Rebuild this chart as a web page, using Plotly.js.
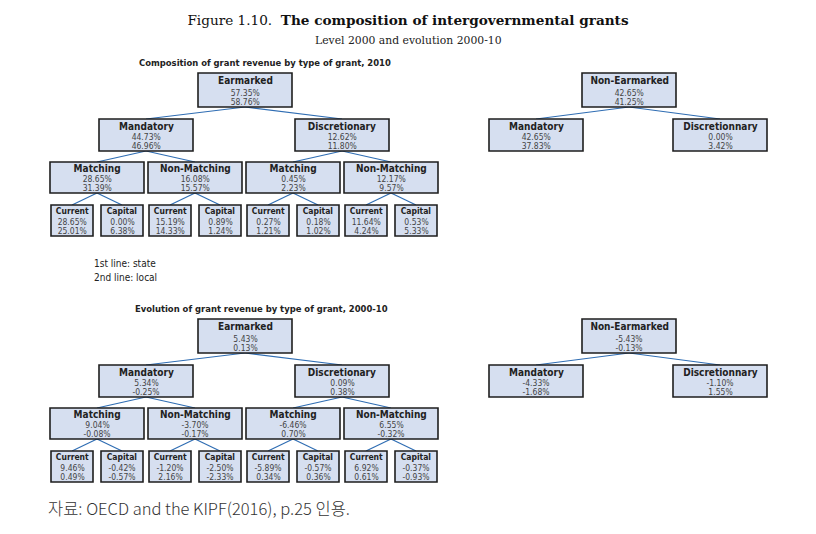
<!DOCTYPE html>
<html><head><meta charset="utf-8">
<script src="https://cdn.plot.ly/plotly-3.0.1.min.js"></script>
<style>html,body{margin:0;padding:0;background:#fff}#chart{width:816px;height:534px}
#chart text[style*="DejaVu Sans"]{font-stretch:condensed !important}</style>
</head><body><div id="chart"></div>
<script>
// ---------- DATA ----------
const groupLabels = ["Earmarked", "Non-Earmarked"];
const earmarkedTypeLabels = ["Mandatory", "Discretionary"];
const nonEarmarkedTypeLabels = ["Mandatory", "Discretionnary"];
const matchingLabels = ["Matching", "Non-Matching"];
const leafLabels = ["Current", "Capital"];
const panelTitles = ["Composition of grant revenue by type of grant, 2010",
                     "Evolution of grant revenue by type of grant, 2000-10"];
const legendLines = ["1st line: state", "2nd line: local"];
const mainTitle = "Figure 1.10.&nbsp; <b>The composition of intergovernmental grants</b>";
const subTitle = "Level 2000 and evolution 2000-10";
const sourceNote = "자료: OECD and the KIPF(2016), p.25 인용.";

// Composition 2010 (state / local)
const compGroupState = [57.35, 42.65];
const compGroupLocal = [58.76, 41.25];
const compEarTypeState = [44.73, 12.62];
const compEarTypeLocal = [46.96, 11.80];
const compNonEarTypeState = [42.65, 0.00];
const compNonEarTypeLocal = [37.83, 3.42];
const compMatchState = [28.65, 16.08, 0.45, 12.17];
const compMatchLocal = [31.39, 15.57, 2.23, 9.57];
const compLeafState = [28.65, 0.00, 15.19, 0.89, 0.27, 0.18, 11.64, 0.53];
const compLeafLocal = [25.01, 6.38, 14.33, 1.24, 1.21, 1.02, 4.24, 5.33];

// Evolution 2000-10 (state / local)
const evoGroupState = [5.43, -5.43];
const evoGroupLocal = [0.13, -0.13];
const evoEarTypeState = [5.34, 0.09];
const evoEarTypeLocal = [-0.25, 0.38];
const evoNonEarTypeState = [-4.33, -1.10];
const evoNonEarTypeLocal = [-1.68, 1.55];
const evoMatchState = [9.04, -3.70, -6.46, 6.55];
const evoMatchLocal = [-0.08, -0.17, 0.70, -0.32];
const evoLeafState = [9.46, -0.42, -1.20, -2.50, -5.89, -0.57, 6.92, -0.37];
const evoLeafLocal = [0.49, -0.57, 2.16, -2.33, 0.34, 0.36, 0.61, -0.93];

// ---------- DRAWING ----------
const NARROW = "'DejaVu Sans', sans-serif";
const FILL = "#d6dff0", EDGE = "#1e1e1e", LINK = "#2f6db3";
const shapes = [], annotations = [];
const fmt = v => v.toFixed(2) + "%";

function box(x0, x1, y0, y1, label, s, l, kind) {
  shapes.push({type: "rect", xref: "x", yref: "y", x0: x0, x1: x1, y0: y0, y1: y1,
    fillcolor: FILL, line: {color: EDGE, width: 1.6}, layer: "above"});
  const cx = (x0 + x1) / 2;
  const off = kind === "top" ? [7, 19.5, 28.5] : kind === "mid" ? [7, 18, 26.5] : [6, 16.5, 25.5];
  const lsize = kind === "leaf" ? 8.5 : 10;
  annotations.push({xref: "x", yref: "y", x: cx, y: y0 + off[0], text: "<b>" + label + "</b>",
    showarrow: false, xanchor: "center", yanchor: "middle",
    font: {family: NARROW, size: lsize, color: "#222"}});
  annotations.push({xref: "x", yref: "y", x: cx, y: y0 + off[1], text: fmt(s),
    showarrow: false, xanchor: "center", yanchor: "middle",
    font: {family: NARROW, size: 8.5, color: "#444"}});
  annotations.push({xref: "x", yref: "y", x: cx, y: y0 + off[2], text: fmt(l),
    showarrow: false, xanchor: "center", yanchor: "middle",
    font: {family: NARROW, size: 8.5, color: "#444"}});
  return {cx: cx, y0: y0, y1: y1};
}
function link(p, c) {
  shapes.push({type: "line", xref: "x", yref: "y", x0: p.cx, y0: p.y1, x1: c.cx, y1: c.y0,
    line: {color: LINK, width: 1.2}, layer: "below"});
}

function panel(dy, gS, gL, eS, eL, nS, nL, mS, mL, lS, lL) {
  const W = 94, LW = 42;
  const rows = [73, 119, 162, 205].map(v => v + dy);
  const H = [34, 32, 31, 31];
  const mNodes = [];
  for (let i = 0; i < 4; i++) {
    const x0 = 50 + i * 98;
    const m = box(x0, x0 + W, rows[2], rows[2] + H[2], matchingLabels[i % 2], mS[i], mL[i], "leafp");
    mNodes.push(m);
    for (let j = 0; j < 2; j++) {
      const lx0 = j === 0 ? x0 + 1 : x0 + W - 1 - LW;
      const k = i * 2 + j;
      const leaf = box(lx0, lx0 + LW, rows[3], rows[3] + H[3], leafLabels[j], lS[k], lL[k], "leaf");
      link(m, leaf);
    }
  }
  const tNodes = [];
  for (let i = 0; i < 2; i++) {
    const cx = (mNodes[2 * i].cx + mNodes[2 * i + 1].cx) / 2;
    const t = box(cx - W / 2, cx + W / 2, rows[1], rows[1] + H[1], earmarkedTypeLabels[i], eS[i], eL[i], "mid");
    tNodes.push(t);
    link(t, mNodes[2 * i]); link(t, mNodes[2 * i + 1]);
  }
  const ecx = (tNodes[0].cx + tNodes[1].cx) / 2 + 1;
  const e = box(ecx - W / 2, ecx + W / 2, rows[0], rows[0] + H[0], groupLabels[0], gS[0], gL[0], "top");
  tNodes.forEach(t => link(e, t));
  const nCenters = [536, 720];
  const nNodes = nCenters.map((cx, i) =>
    box(cx - W / 2, cx + W / 2, rows[1], rows[1] + H[1], nonEarmarkedTypeLabels[i], nS[i], nL[i], "mid"));
  const ncx = (nCenters[0] + nCenters[1]) / 2 + 1;
  const n = box(ncx - W / 2, ncx + W / 2, rows[0], rows[0] + H[0], groupLabels[1], gS[1], gL[1], "top");
  nNodes.forEach(t => link(n, t));
}

panel(0, compGroupState, compGroupLocal, compEarTypeState, compEarTypeLocal,
      compNonEarTypeState, compNonEarTypeLocal, compMatchState, compMatchLocal, compLeafState, compLeafLocal);
panel(246, evoGroupState, evoGroupLocal, evoEarTypeState, evoEarTypeLocal,
      evoNonEarTypeState, evoNonEarTypeLocal, evoMatchState, evoMatchLocal, evoLeafState, evoLeafLocal);

annotations.push({xref: "x", yref: "y", x: 408, y: 40, text: subTitle, showarrow: false,
  xanchor: "center", yanchor: "middle", font: {family: "'DejaVu Serif', serif", size: 10.8, color: "#222"}});
[[137, 62], [133, 308]].forEach((p, i) => annotations.push({xref: "x", yref: "y", x: p[0], y: p[1],
  text: "<b>" + panelTitles[i] + "</b>", showarrow: false, xanchor: "left", yanchor: "middle", align: "left",
  font: {family: NARROW, size: 9.4, color: "#222"}}));
legendLines.forEach((t, i) => annotations.push({xref: "x", yref: "y", x: 92, y: 263 + i * 14,
  text: t, showarrow: false, xanchor: "left", yanchor: "middle", align: "left",
  font: {family: NARROW, size: 10, color: "#222"}}));
annotations.push({xref: "x", yref: "y", x: 46, y: 508, text: sourceNote, showarrow: false,
  xanchor: "left", yanchor: "middle", align: "left",
  font: {family: "'Noto Sans CJK KR', sans-serif", size: 16.5, color: "#333", weight: 300}});

const layout = {
  width: 816, height: 534, margin: {l: 0, r: 0, t: 0, b: 0},
  paper_bgcolor: "#fff", plot_bgcolor: "#fff",
  title: {text: mainTitle, x: 0.5, xanchor: "center", xref: "paper", y: 1 - 20 / 534, yanchor: "middle",
    yref: "container", font: {family: "'DejaVu Serif', serif", size: 13.6, color: "#111"}},
  xaxis: {range: [0, 816], visible: false, fixedrange: true},
  yaxis: {range: [534, 0], visible: false, fixedrange: true},
  shapes: shapes, annotations: annotations, showlegend: false
};
Plotly.newPlot("chart", [{x: [0], y: [0], mode: "markers", marker: {opacity: 0}, hoverinfo: "skip"}], layout,
  {staticPlot: true, displayModeBar: false});
</script></body></html>
